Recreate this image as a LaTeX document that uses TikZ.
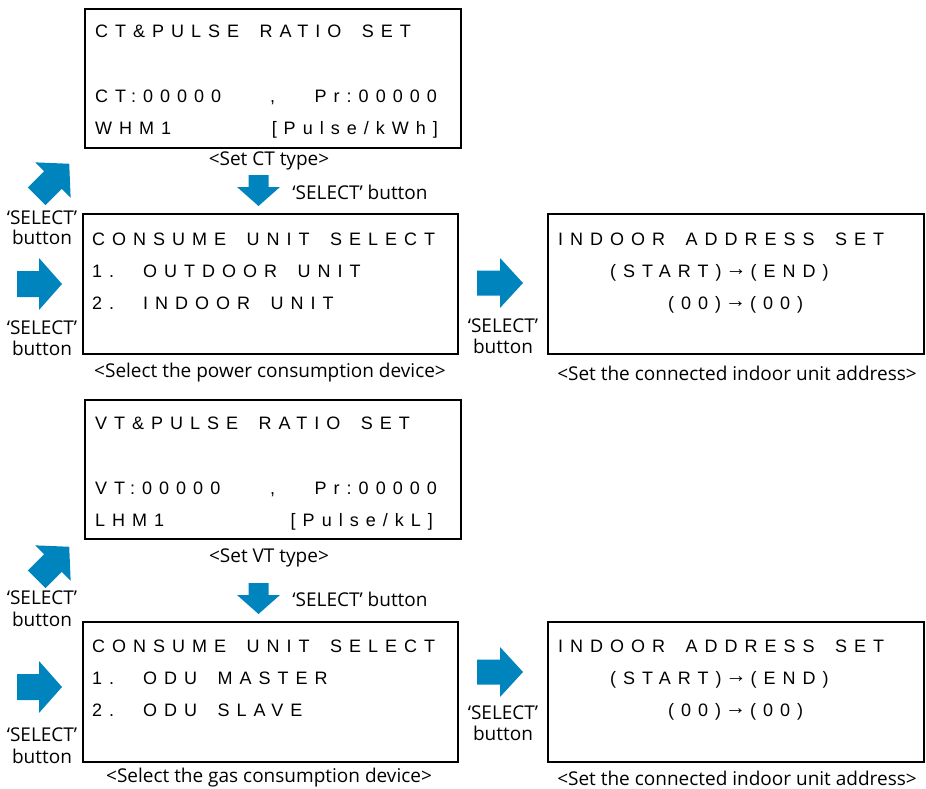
\documentclass[tikz,border=0pt]{standalone}
\usepackage{fontspec}
\setmainfont{Open Sans}
\newfontfamily\lcd[LetterSpace=38.9]{Liberation Sans}
\definecolor{selblue}{HTML}{0084BE}
\newcommand\smarr{\hspace{4pt}\raisebox{1.5pt}{\fontsize{21}{21}\selectfont →}\hspace{4pt}}
\newcommand\wg{\hspace{20.5pt}}
\tikzset{
  x=1pt, y=-1pt,
  lcdbox/.style={draw, line width=2.6pt, inner sep=0pt},
  lcdtext/.style={font=\lcd\fontsize{18}{18}\selectfont, inner sep=0pt, anchor=base west},
  lcdright/.style={lcdtext, anchor=base east},
  lbl/.style={font=\fontsize{19}{19}\selectfont, inner sep=0pt},
  pics/barrow/.style args={#1/#2/#3/#4}{code={
    \fill[selblue] (0,-#2) -- (#1,-#2) -- (#1,-#4) -- (#1+#3,0) -- (#1,#4) -- (#1,#2) -- (0,#2) -- cycle;}}
}
\begin{document}
\begin{tikzpicture}
\useasboundingbox (0,0) rectangle (926,789);
% ---------- boxes ----------
\node[lcdbox, minimum width=376pt, minimum height=139pt] (b1) at (273,78.5) {};
\node[lcdbox, minimum width=375pt, minimum height=140pt] (b2) at (270.5,284) {};
\node[lcdbox, minimum width=376pt, minimum height=140pt] (b3) at (736,284) {};
\node[lcdbox, minimum width=376pt, minimum height=139pt] (b4) at (273,469.5) {};
\node[lcdbox, minimum width=375pt, minimum height=140pt] (b5) at (270.5,692) {};
\node[lcdbox, minimum width=376pt, minimum height=140pt] (b6) at (736,692) {};
% ---------- box 1 ----------
\node[lcdtext] (t11) at (95,38) {CT\&PULSE\wg RATIO\wg SET};
\node[lcdtext] (t12) at (95,103) {CT:00000};
\node[lcdtext] (t13) at (270,103) {,};
\node[lcdright] (t14) at (437,103) {Pr:00000};
\node[lcdtext] (t15) at (95,135) {WHM1};
\node[lcdright] (t16) at (438,135) {[Pulse/kWh]};
% ---------- box 2 ----------
\node[lcdtext] (t21) at (92,245) {CONSUME\wg UNIT\wg SELECT};
\node[lcdtext] (t22) at (92,277) {1.\hspace{29pt}OUTDOOR\wg UNIT};
\node[lcdtext] (t23) at (92,309) {2.\hspace{29pt}INDOOR\wg UNIT};
% ---------- box 3 ----------
\node[lcdtext] (t31) at (558,245) {INDOOR\wg ADDRESS\wg SET};
\node[lcdtext] (t32) at (610,277) {(START)\smarr(END)};
\node[lcdtext] (t33) at (668,309) {(00)\smarr(00)};
% ---------- box 4 ----------
\node[lcdtext] (t41) at (95,429) {VT\&PULSE\wg RATIO\wg SET};
\node[lcdtext] (t42) at (95,494) {VT:00000};
\node[lcdtext] (t43) at (270,494) {,};
\node[lcdright] (t44) at (437,494) {Pr:00000};
\node[lcdtext] (t45) at (95,526) {LHM1};
\node[lcdright] (t46) at (433,526) {[Pulse/kL]};
% ---------- box 5 ----------
\node[lcdtext] (t51) at (92,652) {CONSUME\wg UNIT\wg SELECT};
\node[lcdtext] (t52) at (92,684) {1.\hspace{29pt}ODU\wg MASTER};
\node[lcdtext] (t53) at (92,716) {2.\hspace{29pt}ODU\wg SLAVE};
% ---------- box 6 ----------
\node[lcdtext] (t61) at (558,652) {INDOOR\wg ADDRESS\wg SET};
\node[lcdtext] (t62) at (610,684) {(START)\smarr(END)};
\node[lcdtext] (t63) at (668,716) {(00)\smarr(00)};
% ---------- captions ----------
\node[lbl] (c1) at (269,161) {<Set CT type>};
\node[lbl] (c2) at (270,373) {<Select the power consumption device>};
\node[lbl] (c3) at (737,373) {<Set the connected indoor unit address>};
\node[lbl] (c4) at (269,558) {<Set VT type>};
\node[lbl] (c5) at (269,778) {<Select the gas consumption device>};
\node[lbl] (c6) at (737,778) {<Set the connected indoor unit address>};
% ---------- button labels ----------
\node[lbl] (s1) at (360,192) {‘SELECT’ button};
\node[lbl] (s2) at (360,599) {‘SELECT’ button};
\node[lbl] (s3a) at (42,218) {‘SELECT’};
\node[lbl] (s3b) at (42,237) {button};
\node[lbl] (s4a) at (42,328) {‘SELECT’};
\node[lbl] (s4b) at (42,348) {button};
\node[lbl] (s5a) at (503,326) {‘SELECT’};
\node[lbl] (s5b) at (503,346) {button};
\node[lbl] (s6a) at (42,598) {‘SELECT’};
\node[lbl] (s6b) at (42,619) {button};
\node[lbl] (s7a) at (42,735) {‘SELECT’};
\node[lbl] (s7b) at (42,756) {button};
\node[lbl] (s8a) at (503,713) {‘SELECT’};
\node[lbl] (s8b) at (503,733) {button};
% ---------- block arrows ----------
\pic[rotate=-90] at (258.5,175) {barrow=12/10/19/21.5};
\pic[rotate=-90] at (258.5,583) {barrow=12/10/19/21.5};
\pic[rotate=45] at (36.7,196.3) {barrow=23/12.5/23/25};
\pic[rotate=45] at (36.7,579.3) {barrow=23/12.5/23/25};
\pic at (17,284) {barrow=22/13/23/26};
\pic at (17,687) {barrow=22/13/23/26};
\pic at (477,283) {barrow=23/12.5/23/25};
\pic at (477,672) {barrow=23/12.5/23/25};
\end{tikzpicture}
\end{document}
